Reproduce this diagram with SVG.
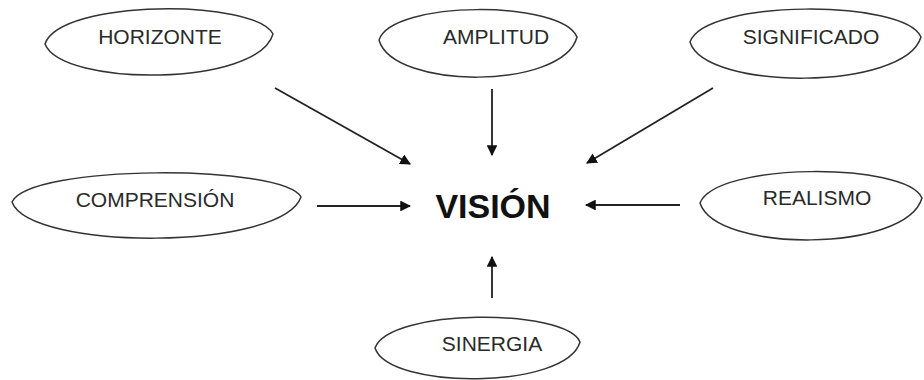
<svg xmlns="http://www.w3.org/2000/svg" width="924" height="380" viewBox="0 0 924 380">
<defs>
<style>
.n{fill:#fff;stroke:#333;stroke-width:1.5}
.t{font-family:"Liberation Sans",Arial,sans-serif;font-size:21px;fill:#2a2a2a;text-anchor:middle}
.c{font-family:"Liberation Sans",Arial,sans-serif;font-size:34px;font-weight:bold;fill:#111;text-anchor:middle}
.e{stroke:#222;stroke-width:1.8;fill:none;marker-end:url(#ah)}
</style>
<marker id="ah" viewBox="0 0 10 10" refX="9" refY="5" markerWidth="6" markerHeight="6" orient="auto" markerUnits="strokeWidth">
<path d="M0,0 L10,5 L0,10 Z" fill="#111"/>
</marker>
</defs>
<rect width="924" height="380" fill="#fff"/>
<g id="horizonte"><path class="n" d="M45,44 C60,-1 255,-1 273,34 C258,87 62,87 45,44 Z"/><text class="t" x="160" y="44">HORIZONTE</text></g>
<g id="amplitud"><path class="n" d="M379,40 C392,0 562,0 577,37 C563,90 393,90 379,40 Z"/><text class="t" x="496" y="44">AMPLITUD</text></g>
<g id="significado"><path class="n" d="M690,42 C705,-1 905,-1 921,37 C905,91 705,91 690,42 Z"/><text class="t" x="811" y="44">SIGNIFICADO</text></g>
<g id="comprension"><path class="n" d="M12,202 C30,164 282,164 301,197 C282,251 30,251 12,202 Z"/><text class="t" x="155" y="207">COMPRENSIÓN</text></g>
<g id="realismo"><path class="n" d="M700,203 C716,162 906,162 922,198 C906,253 716,253 700,203 Z"/><text class="t" x="817" y="205">REALISMO</text></g>
<g id="sinergia"><path class="n" d="M375,348 C389,308 566,308 580,342 C566,390 389,390 375,348 Z"/><text class="t" x="492" y="351">SINERGIA</text></g>
<g id="vision"><text class="c" x="493" y="218">VISIÓN</text></g>
<g id="connectors">
<line class="e" x1="275" y1="88" x2="410" y2="164"/>
<line class="e" x1="492" y1="89" x2="492" y2="155"/>
<line class="e" x1="713" y1="88" x2="587" y2="163"/>
<line class="e" x1="317" y1="206" x2="410" y2="206"/>
<line class="e" x1="680" y1="205" x2="586" y2="205"/>
<line class="e" x1="492" y1="298" x2="492" y2="257"/>
</g>
</svg>
